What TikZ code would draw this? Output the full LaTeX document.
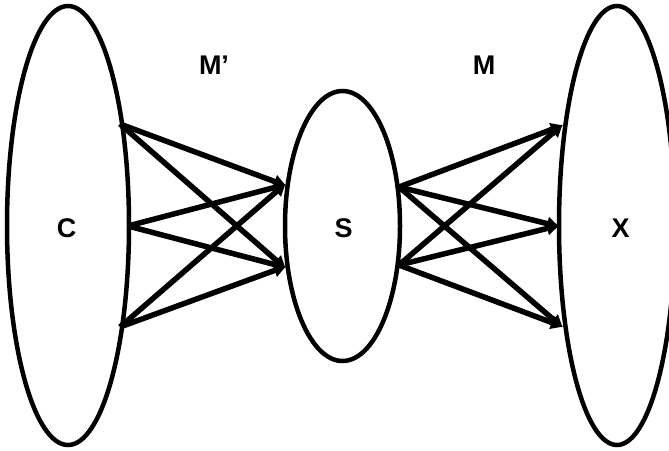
\documentclass[tikz,border=0pt]{standalone}
\usepackage{fontspec}
\setmainfont{Liberation Sans}
\usetikzlibrary{shapes.geometric,arrows.meta}
\begin{document}
\begin{tikzpicture}[x=1pt,y=-1pt,
  set/.style={draw,ellipse,line width=4.5pt,inner sep=0pt,outer sep=0pt},
  lbl/.style={font=\fontsize{27}{30}\selectfont\bfseries,inner sep=0pt},
  map/.style={line width=5.5pt,-{Triangle[length=12pt,width=13pt]},shorten >=-2pt}]
\useasboundingbox (0,0) rectangle (669,450);
\node[set,minimum width=122pt,minimum height=439pt] (C) at (68,225.5) {};
\node[set,minimum width=115pt,minimum height=270pt] (S) at (342.5,226) {};
\node[set,minimum width=116pt,minimum height=439pt] (X) at (617,225.5) {};
\node[lbl] (Cl) at (66.5,228) {C};
\node[lbl] (Sl) at (343.5,228) {S};
\node[lbl] (Xl) at (620.5,228) {X};
\node[lbl] (Mp) at (214,65.5) {M’};
\node[lbl] (Mm) at (484,65.5) {M};
\coordinate (c1) at (120,124);
\coordinate (c2) at (128,226);
\coordinate (c3) at (120,327);
\coordinate (s1) at (284,185);
\coordinate (s2) at (284,267);
\coordinate (t1) at (399,187);
\coordinate (t2) at (399,265);
\coordinate (x1) at (561,126);
\coordinate (x2) at (557,226);
\coordinate (x3) at (561,326);
\foreach \a in {c1,c2,c3}{\foreach \b in {s1,s2}{\draw[map] (\a) -- (\b);}}
\foreach \a in {t1,t2}{\foreach \b in {x1,x2,x3}{\draw[map] (\a) -- (\b);}}
\end{tikzpicture}
\end{document}
